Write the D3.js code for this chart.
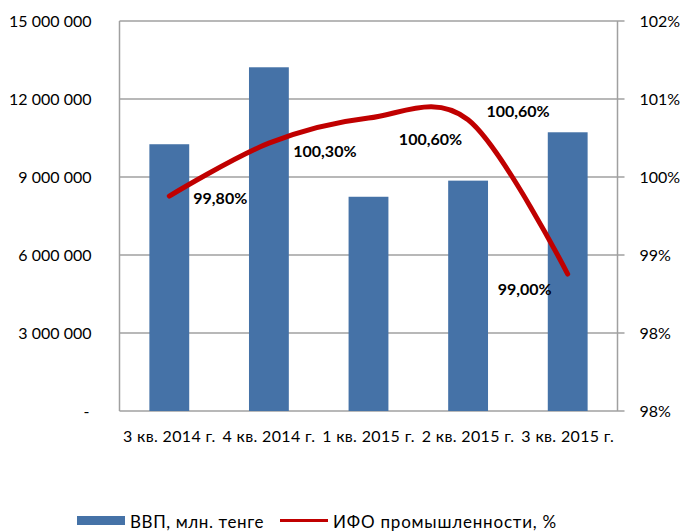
<!DOCTYPE html>
<html><head><meta charset="utf-8">
<script src="https://cdn.jsdelivr.net/npm/d3@7"></script>
<style>
html,body{margin:0;padding:0;background:#fff;}
svg{display:block;font-family:Lato,"Open Sans",sans-serif;}
</style></head>
<body>
<svg id="c" width="682" height="532"></svg>
<script>
// ---- data ----
const categories = ["3 кв. 2014 г.", "4 кв. 2014 г.", "1 кв. 2015 г.", "2 кв. 2015 г.", "3 кв. 2015 г."];
const gdpValues = [10260000, 13220000, 8240000, 8860000, 10720000];
const ifoValues = [99.98, 100.59, 100.88, 100.86, 99.08];
const ifoLabels = ["99,80%", "100,30%", "100,60%", "100,60%", "99,00%"];
const leftTicks = [0, 3000000, 6000000, 9000000, 12000000, 15000000];
const rightTicks = [97.5, 98.4, 99.3, 100.2, 101.1, 102];
const seriesNames = ["ВВП, млн. тенге", "ИФО промышленности, %"];

// ---- layout ----
const svg = d3.select("#c");
const L = 119.5, R = 617.5, T = 21, B = 411;
const barColor = "#4572A7", lineColor = "#C00000", gridColor = "#a0a0a0";

const x = d3.scaleBand().domain(categories).range([L, R]).paddingInner(0.6).paddingOuter(0.3);
const yL = d3.scaleLinear().domain([0, 15000000]).range([B, T]);
const yR = d3.scaleLinear().domain([97.5, 102]).range([B, T]);

const fmtL = v => v === 0 ? "-" : d3.format(",")(v).replace(/,/g, " ");
const fmtR = v => Math.round(v) + "%";

// gridlines
svg.append("g").selectAll("line").data(leftTicks).join("line")
  .attr("x1", L).attr("x2", R + 7)
  .attr("y1", d => yL(d)).attr("y2", d => yL(d))
  .attr("stroke", gridColor).attr("stroke-width", 1.5);

// axis lines
svg.append("line").attr("x1", L).attr("x2", L).attr("y1", T).attr("y2", B)
  .attr("stroke", gridColor).attr("stroke-width", 1.5);
svg.append("line").attr("x1", R).attr("x2", R).attr("y1", T).attr("y2", B)
  .attr("stroke", gridColor).attr("stroke-width", 1.5);

// left axis labels
const gL = svg.append("g").attr("transform", `translate(${L},0)`)
  .call(d3.axisLeft(yL).tickValues(leftTicks).tickFormat(fmtL).tickSize(0).tickPadding(28));
gL.select(".domain").remove();
gL.selectAll("text").attr("font-size", 16).attr("fill", "#000").attr("font-family", "Lato");
gL.selectAll(".tick").filter(d => d === 0).select("text").attr("dx", -2);

// right axis labels
const gR = svg.append("g").attr("transform", `translate(${R},0)`)
  .call(d3.axisRight(yR).tickValues(rightTicks).tickFormat(fmtR).tickSize(0).tickPadding(22));
gR.select(".domain").remove();
gR.selectAll("text").attr("font-size", 16).attr("fill", "#000").attr("font-family", "Lato");

// bottom axis labels
const gB = svg.append("g").attr("transform", `translate(0,${B})`)
  .call(d3.axisBottom(x).tickSize(0).tickPadding(20));
gB.select(".domain").remove();
gB.selectAll("text").attr("font-size", 16).attr("letter-spacing", 0.35)
  .attr("fill", "#000").attr("font-family", "Lato");

// bars
svg.append("g").selectAll("rect").data(gdpValues).join("rect")
  .attr("x", (d, i) => x(categories[i]))
  .attr("width", x.bandwidth())
  .attr("y", d => yL(d))
  .attr("height", d => B - yL(d))
  .attr("fill", barColor);

// line (smoothed)
const pts = ifoValues.map((v, i) => [x(categories[i]) + x.bandwidth() / 2, yR(v)]);
svg.append("path").datum(pts)
  .attr("d", d3.line().curve(d3.curveCatmullRom.alpha(0)))
  .attr("fill", "none").attr("stroke", lineColor).attr("stroke-width", 5)
  .attr("stroke-linecap", "round").attr("stroke-linejoin", "round");

// data labels (manually placed offsets as in the original)
const labelOffsets = [[51, 1], [56, 7], [62, 20], [50, -9], [-43, 14]];
svg.append("g").selectAll("text").data(ifoLabels).join("text")
  .attr("x", (d, i) => pts[i][0] + labelOffsets[i][0])
  .attr("y", (d, i) => pts[i][1] + labelOffsets[i][1])
  .attr("text-anchor", "middle").attr("dominant-baseline", "central")
  .attr("font-size", 16).attr("font-weight", "bold").attr("fill", "#000")
  .text(d => d);

// legend
const lg = svg.append("g");
lg.append("rect").attr("x", 77).attr("y", 516).attr("width", 48).attr("height", 9).attr("fill", barColor);
lg.append("text").attr("x", 130).attr("y", 521).attr("dominant-baseline", "central")
  .attr("font-size", 17).attr("letter-spacing", 0.6).text(seriesNames[0]);
lg.append("line").attr("x1", 280).attr("x2", 328).attr("y1", 520.5).attr("y2", 520.5)
  .attr("stroke", lineColor).attr("stroke-width", 3);
lg.append("text").attr("x", 333).attr("y", 521).attr("dominant-baseline", "central")
  .attr("font-size", 17).attr("letter-spacing", 0.8).text(seriesNames[1]);
</script>
</body></html>
